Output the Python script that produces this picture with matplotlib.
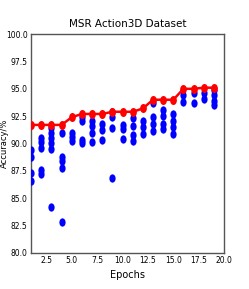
import matplotlib
matplotlib.use("Agg")
import matplotlib.pyplot as plt
from matplotlib.path import Path
from matplotlib.transforms import Affine2D

plt.rcParams["font.family"] = ["Liberation Sans Narrow", "DejaVu Sans"]

# best accuracy per epoch (red line)
epochs = list(range(1, 20))
best_acc = [91.7, 91.7, 91.7, 91.7, 92.4, 92.7, 92.7, 92.7, 92.9, 92.9,
            92.9, 93.2, 94.0, 94.0, 94.0, 95.0, 95.0, 95.1, 95.1]

# individual runs per epoch (blue dots)
run_acc = [
    [89.4, 88.8, 87.3, 86.6],
    [90.5, 90.1, 89.6, 87.6, 87.2],
    [91.4, 91.0, 90.5, 90.0, 89.5, 84.2],
    [91.0, 88.8, 88.4, 87.8, 82.8],
    [91.0, 90.6, 90.2],
    [92.4, 92.1, 90.3, 90.0],
    [92.1, 91.6, 91.0, 90.1],
    [91.8, 91.2, 90.3],
    [92.9, 92.4, 91.4, 86.8],
    [91.7, 91.3, 90.4],
    [92.3, 91.6, 90.8, 90.2],
    [92.1, 91.5, 90.9],
    [93.7, 92.4, 91.8, 91.1],
    [93.1, 92.5, 91.8, 91.3],
    [92.7, 92.1, 91.5, 90.9],
    [94.4, 93.8],
    [94.6, 93.7],
    [94.6, 94.1],
    [94.9, 94.4, 93.9, 93.5],
]

# the source image is stretched vertically, so dots look like ellipses
circ = Path.unit_circle()
oval = Path(Affine2D().scale(0.75, 1.0).transform(circ.vertices), circ.codes)

fig = plt.figure(figsize=(2.49, 2.89), dpi=100)
ax = fig.add_axes([0.125, 0.125, 0.775, 0.757])

for ep, vals in zip(epochs, run_acc):
    ax.plot([ep] * len(vals), vals, linestyle="none", marker=oval,
            color="blue", markersize=6, markeredgewidth=0, zorder=3)

ax.plot(epochs, best_acc, "-", color="red", linewidth=1.8,
        marker=oval, markersize=6.5, markeredgewidth=0, zorder=4)

ax.set_xlim(1, 20)
ax.set_ylim(80, 100)
ax.set_xticks([2.5, 5.0, 7.5, 10.0, 12.5, 15.0, 17.5, 20.0])
ax.set_yticks([80.0, 82.5, 85.0, 87.5, 90.0, 92.5, 95.0, 97.5, 100.0])
ax.tick_params(labelsize=5.5, length=0, pad=2.5)
ax.set_title("MSR Action3D Dataset", fontsize=7.5, pad=5)
ax.set_xlabel("Epochs", fontsize=7, labelpad=3)
ax.set_ylabel("Accuracy/%", fontsize=6, family="DejaVu Sans")
ax.yaxis.set_label_coords(-0.113, 0.5)
for s in ax.spines.values():
    s.set_color("#555555")
    s.set_linewidth(1.0)

fig.savefig("out.png", dpi=100)
